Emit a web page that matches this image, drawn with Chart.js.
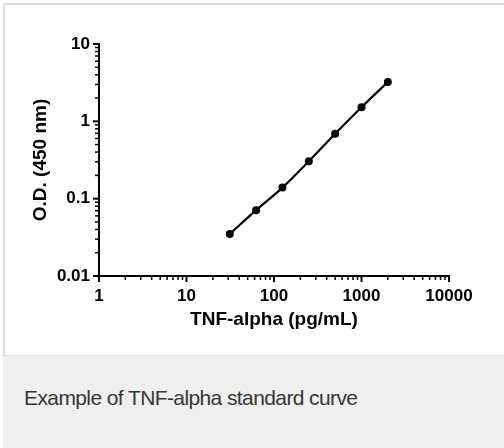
<!DOCTYPE html>
<html>
<head>
<meta charset="utf-8">
<script src="https://cdn.jsdelivr.net/npm/chart.js@4/dist/chart.umd.min.js"></script>
<style>
  html, body { margin: 0; padding: 0; background: #fff; width: 504px; height: 448px; overflow: hidden; }
  #frame { position: absolute; left: 3px; top: 3px; width: 600px; height: 360px; border-left: 2px solid #dddddd; border-top: 2px solid #dddddd; }
  #caption { position: absolute; left: 3px; top: 355px; width: 600px; height: 100px; background: #eeefee; border-top: 1px solid #dedede;
    font-family: "Liberation Sans", Arial, sans-serif; font-size: 21px; letter-spacing: -0.6px; color: #363636; }
  #caption span { position: absolute; left: 21px; top: 30px; }
  #wrap { position: absolute; left: 0; top: 0; width: 504px; height: 350px; }
</style>
</head>
<body>
<div id="frame"></div>
<div id="caption"><span>Example of TNF-alpha standard curve</span></div>
<div id="wrap"><canvas id="myChart"></canvas></div>
<script>
// standard curve data
var concentraciones = [31.25, 62.5, 125, 250, 500, 1000, 2000]
var densidades = [0.035, 0.071, 0.139, 0.304, 0.69, 1.52, 3.22]
var xTicks = [1, 10, 100, 1000, 10000]
var yTicks = [0.01, 0.1, 1, 10]
var xTitulo = 'TNF-alpha (pg/mL)'
var yTitulo = 'O.D. (450 nm)'

var fuenteTicks = { family: "'Liberation Sans', Arial, sans-serif", size: 17, weight: 'bold' }
var fuenteTitulo = { family: "'Liberation Sans', Arial, sans-serif", size: 19, weight: 'bold' }

// draws major + minor log ticks using the scales
var logTicks = {
    id: 'logTicks',
    afterDraw: function (chart) {
        var ctx = chart.ctx
        var xs = chart.scales.x
        var ys = chart.scales.y
        ctx.save()
        ctx.strokeStyle = '#000'
        ctx.lineCap = 'butt'
        for (var i = 0; i < xTicks.length; i++) {
            var d = xTicks[i]
            var px = xs.getPixelForValue(d)
            ctx.lineWidth = 2
            ctx.beginPath(); ctx.moveTo(px, xs.top); ctx.lineTo(px, xs.top + 6); ctx.stroke()
            if (i < xTicks.length - 1) {
                ctx.lineWidth = 1.5
                for (var m = 2; m < 10; m++) {
                    var p = xs.getPixelForValue(d * m)
                    ctx.beginPath(); ctx.moveTo(p, xs.top); ctx.lineTo(p, xs.top + 4); ctx.stroke()
                }
            }
        }
        for (var j = 0; j < yTicks.length; j++) {
            var e = yTicks[j]
            var py = ys.getPixelForValue(e)
            ctx.lineWidth = 2
            ctx.beginPath(); ctx.moveTo(ys.right, py); ctx.lineTo(ys.right - 6, py); ctx.stroke()
            if (j < yTicks.length - 1) {
                ctx.lineWidth = 1.5
                for (var n = 2; n < 10; n++) {
                    var q = ys.getPixelForValue(e * n)
                    ctx.beginPath(); ctx.moveTo(ys.right, q); ctx.lineTo(ys.right - 4, q); ctx.stroke()
                }
            }
        }
        ctx.restore()
    }
}

var ctx = document.getElementById('myChart').getContext('2d')
var myChart = new Chart(ctx, {
    type: 'line',
    data: {
        datasets: [{
            data: concentraciones.map(function (c, i) { return { x: c, y: densidades[i] } }),
            borderColor: '#000',
            backgroundColor: '#000',
            borderWidth: 2.2,
            pointRadius: 4,
            pointBorderWidth: 0,
            cubicInterpolationMode: 'monotone'
        }]
    },
    options: {
        responsive: true,
        maintainAspectRatio: false,
        animation: false,
        layout: { padding: { top: 44, right: 55, left: 0, bottom: 0 } },
        plugins: { legend: { display: false }, tooltip: { enabled: false } },
        scales: {
            x: {
                type: 'logarithmic',
                min: 1,
                max: 10000,
                afterFit: function (s) { s.height = 74 },
                afterBuildTicks: function (s) { s.ticks = xTicks.map(function (v) { return { value: v } }) },
                grid: { display: false, drawTicks: false },
                border: { display: true, color: '#000', width: 2 },
                ticks: {
                    color: '#000', font: fuenteTicks, padding: 10, autoSkip: false, maxRotation: 0,
                    callback: function (v) { return String(v) }
                },
                title: { display: true, text: xTitulo, color: '#000', font: fuenteTitulo, padding: { top: 0, bottom: 19 } }
            },
            y: {
                type: 'logarithmic',
                min: 0.01,
                max: 10,
                afterFit: function (s) { s.width = 99 },
                afterBuildTicks: function (s) { s.ticks = yTicks.map(function (v) { return { value: v } }) },
                grid: { display: false, drawTicks: false },
                border: { display: true, color: '#000', width: 2 },
                ticks: {
                    color: '#000', font: fuenteTicks, padding: 9, autoSkip: false,
                    callback: function (v) { return String(v) }
                },
                title: { display: true, text: yTitulo, color: '#000', font: fuenteTitulo, padding: { top: 29, bottom: 0 } }
            }
        }
    },
    plugins: [logTicks]
})
</script>
</body>
</html>
